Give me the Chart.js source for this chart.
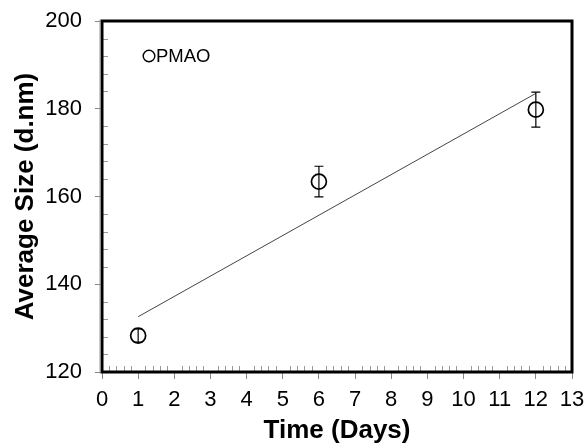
<!DOCTYPE html>
<html>
<head>
<meta charset="utf-8">
<script src="https://cdn.jsdelivr.net/npm/chart.js@4.4.1/dist/chart.umd.min.js"></script>
<style>
  html, body { margin: 0; padding: 0; background: #fff; }
  #wrap { width: 585px; height: 448px; position: relative; }
</style>
</head>
<body>
<div id="wrap"><canvas id="c" width="585" height="448"></canvas></div>
<script>
// Particle size over time (PMAO)
const days = [1, 6, 12];
const avgSize = [128.3, 163.4, 179.8];
const sizeErr = [1.5, 3.5, 4.0];

// Linear trend line end points
const trendDays = [1, 12];
const trendSize = [132.6, 183.5];

const seriesName = 'PMAO';
const xTitle = 'Time (Days)';
const yTitle = 'Average Size (d.nm)';

const FONT = '"Liberation Sans", Arial, sans-serif';

// Error bars, minor ticks, frame and in-plot legend
const decorations = {
  id: 'decorations',
  afterDatasetsDraw(chart) {
    const ctx = chart.ctx;
    const x = chart.scales.x, y = chart.scales.y;
    const area = chart.chartArea;

    // error bars
    ctx.save();
    ctx.strokeStyle = '#000';
    ctx.lineWidth = 1.2;
    days.forEach((d, i) => {
      const px = x.getPixelForValue(d);
      const top = y.getPixelForValue(avgSize[i] + sizeErr[i]);
      const bot = y.getPixelForValue(avgSize[i] - sizeErr[i]);
      ctx.beginPath();
      ctx.moveTo(px, top); ctx.lineTo(px, bot);
      ctx.moveTo(px - 4.5, top); ctx.lineTo(px + 4.5, top);
      ctx.moveTo(px - 4.5, bot); ctx.lineTo(px + 4.5, bot);
      ctx.stroke();
    });
    ctx.restore();

    // minor ticks (inside)
    ctx.save();
    ctx.strokeStyle = '#999';
    ctx.lineWidth = 1;
    ctx.beginPath();
    for (let k = 1; k < 65; k++) {
      if (k % 5 === 0) continue;
      const px = Math.round(x.getPixelForValue(k * 0.2)) + 0.5;
      ctx.moveTo(px, area.bottom);
      ctx.lineTo(px, area.bottom - 6);
    }
    for (let k = 1; k < 20; k++) {
      if (k % 5 === 0) continue;
      const py = Math.round(y.getPixelForValue(120 + k * 4)) + 0.5;
      ctx.moveTo(area.left, py);
      ctx.lineTo(area.left + 6, py);
    }
    ctx.stroke();
    ctx.restore();

    // frame
    ctx.save();
    ctx.strokeStyle = '#000';
    ctx.lineWidth = 3;
    ctx.strokeRect(area.left, area.top, area.right - area.left, area.bottom - area.top);
    ctx.strokeStyle = '#999';
    ctx.lineWidth = 1;
    ctx.beginPath();
    ctx.moveTo(area.left - 2, area.top - 1.5);
    ctx.lineTo(area.left - 2, area.bottom + 1.5);
    ctx.stroke();
    ctx.restore();

    // legend
    ctx.save();
    const lx = area.left + 47, ly = area.top + 35;
    ctx.strokeStyle = '#000';
    ctx.lineWidth = 1.4;
    ctx.beginPath();
    ctx.arc(lx, ly, 5.8, 0, Math.PI * 2);
    ctx.stroke();
    ctx.fillStyle = '#000';
    ctx.font = '18.5px ' + FONT;
    ctx.textAlign = 'left';
    ctx.textBaseline = 'middle';
    ctx.fillText(seriesName, lx + 7, ly + 1);
    ctx.restore();
  }
};

new Chart(document.getElementById('c'), {
  type: 'scatter',
  data: {
    datasets: [
      {
        label: seriesName,
        data: days.map((d, i) => ({ x: d, y: avgSize[i] })),
        pointStyle: 'circle',
        pointRadius: 7.5,
        pointBorderWidth: 1.7,
        borderColor: '#000',
        backgroundColor: 'rgba(0,0,0,0)',
        showLine: false,
        order: 1
      },
      {
        label: 'trend',
        data: trendDays.map((d, i) => ({ x: d, y: trendSize[i] })),
        showLine: true,
        pointRadius: 0,
        borderColor: '#444',
        borderWidth: 1,
        order: 2
      }
    ]
  },
  options: {
    responsive: false,
    animation: false,
    layout: { padding: { top: 21, right: 13, left: 0, bottom: 0 } },
    plugins: {
      legend: { display: false },
      tooltip: { enabled: false }
    },
    scales: {
      x: {
        type: 'linear',
        min: 0, max: 13,
        afterFit(scale) {
          scale.height = 76;
          scale.paddingLeft = 0;
          scale.paddingRight = 0;
        },
        ticks: {
          stepSize: 1,
          color: '#000',
          padding: 8,
          maxRotation: 0,
          font: { family: FONT, size: 22 }
        },
        grid: { drawOnChartArea: false, drawTicks: true, tickLength: 7, color: '#888', tickColor: '#888' },
        border: { display: false },
        title: {
          display: true, text: xTitle, color: '#000',
          font: { family: FONT, size: 26, weight: 'bold' },
          padding: { top: 0, bottom: 2 }
        }
      },
      y: {
        type: 'linear',
        min: 120, max: 200,
        afterFit(scale) {
          scale.width = 102;
          scale.paddingTop = 0;
          scale.paddingBottom = 0;
        },
        ticks: {
          stepSize: 20,
          color: '#000',
          padding: 13,
          font: { family: FONT, size: 22 }
        },
        grid: { drawOnChartArea: false, drawTicks: true, tickLength: 7, color: '#888', tickColor: '#888' },
        border: { display: false },
        title: {
          display: true, text: yTitle, color: '#000',
          font: { family: FONT, size: 26, weight: 'bold' },
          padding: { top: 10, bottom: 0 }
        }
      }
    }
  },
  plugins: [decorations]
});
</script>
</body>
</html>
